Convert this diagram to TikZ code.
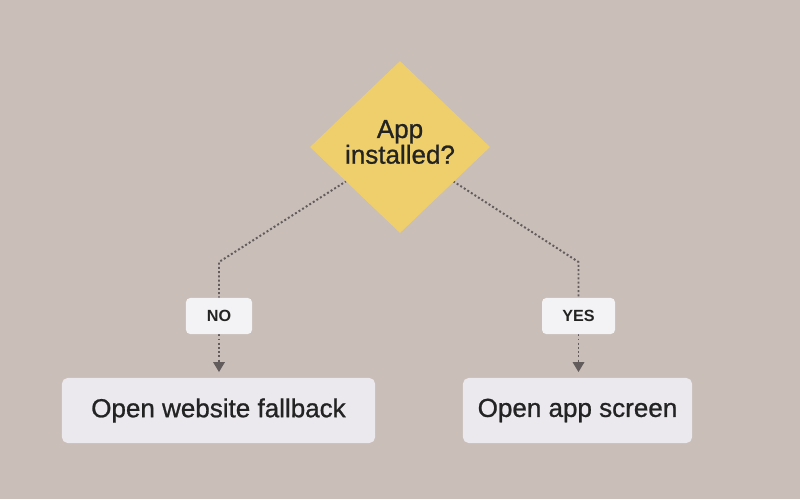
\documentclass[tikz,border=0pt]{standalone}
\usepackage{fontspec}
\setmainfont{Liberation Sans}
\newfontfamily\medsans{Liberation Sans}[FakeBold=0.9]
\usetikzlibrary{shapes.geometric,arrows.meta,backgrounds}
\definecolor{bgtaupe}{HTML}{C9BEB8}
\definecolor{decyellow}{HTML}{EFCF6B}
\definecolor{boxgray}{HTML}{EBE9EE}
\definecolor{tagwhite}{HTML}{F3F2F4}
\definecolor{linegray}{HTML}{625C5C}
\definecolor{inkdark}{HTML}{232323}

\begin{document}
\begin{tikzpicture}[x=0.025cm,y=-0.025cm,
    decision/.style={shape=diamond,fill=decyellow,text=inkdark,inner sep=0pt,minimum width=4.5cm,minimum height=4.3cm,align=center,font=\medsans\fontsize{18.5}{17}\selectfont},
    action/.style={rounded corners=4pt,fill=boxgray,text=inkdark,minimum height=1.625cm,font=\medsans\fontsize{18.5}{22}\selectfont},
    tag/.style={rounded corners=3pt,fill=tagwhite,text=inkdark,minimum height=0.9cm,font=\fontsize{11.5}{14}\selectfont\bfseries},
    flow/.style={draw=linegray,line width=1.4pt,dash pattern=on 1.4pt off 1.6pt}]

                \node[decision] (app) at (400,147) {};
                \node[font=\medsans\fontsize{18.5}{17}\selectfont, text=inkdark, align=center] (apptext) at (400,142) {App\\installed?};

                \node[tag, minimum width=1.65cm] (no) at (219,316) {NO};
                \node[tag, minimum width=1.825cm] (yes) at (578.5,316) {YES};

                \node[action, minimum width=7.825cm] (web) at (218.5,410.5) {Open website fallback};
                \node[action, minimum width=5.725cm] (scr) at (577.5,410.5) {Open app screen};

                \coordinate (nobend) at (219,262);
                \coordinate (yesbend) at (578.5,262);

                \begin{pgfonlayer}{background}
                \fill[bgtaupe] (0,0) rectangle (800,499);

                \draw[flow] (app.center) -- (nobend) -- (no.north);
                \draw[flow] (app.center) -- (yesbend) -- (yes.north);

                \draw[flow, -{Triangle[width=8pt,length=7pt,fill=linegray]}, shorten >=4pt] (no.south) -- (no.south |- web.north);
                \draw[flow, -{Triangle[width=8pt,length=7pt,fill=linegray]}, shorten >=4pt] (yes.south) -- (yes.south |- scr.north);
                \end{pgfonlayer}

            \end{tikzpicture}
\end{document}
